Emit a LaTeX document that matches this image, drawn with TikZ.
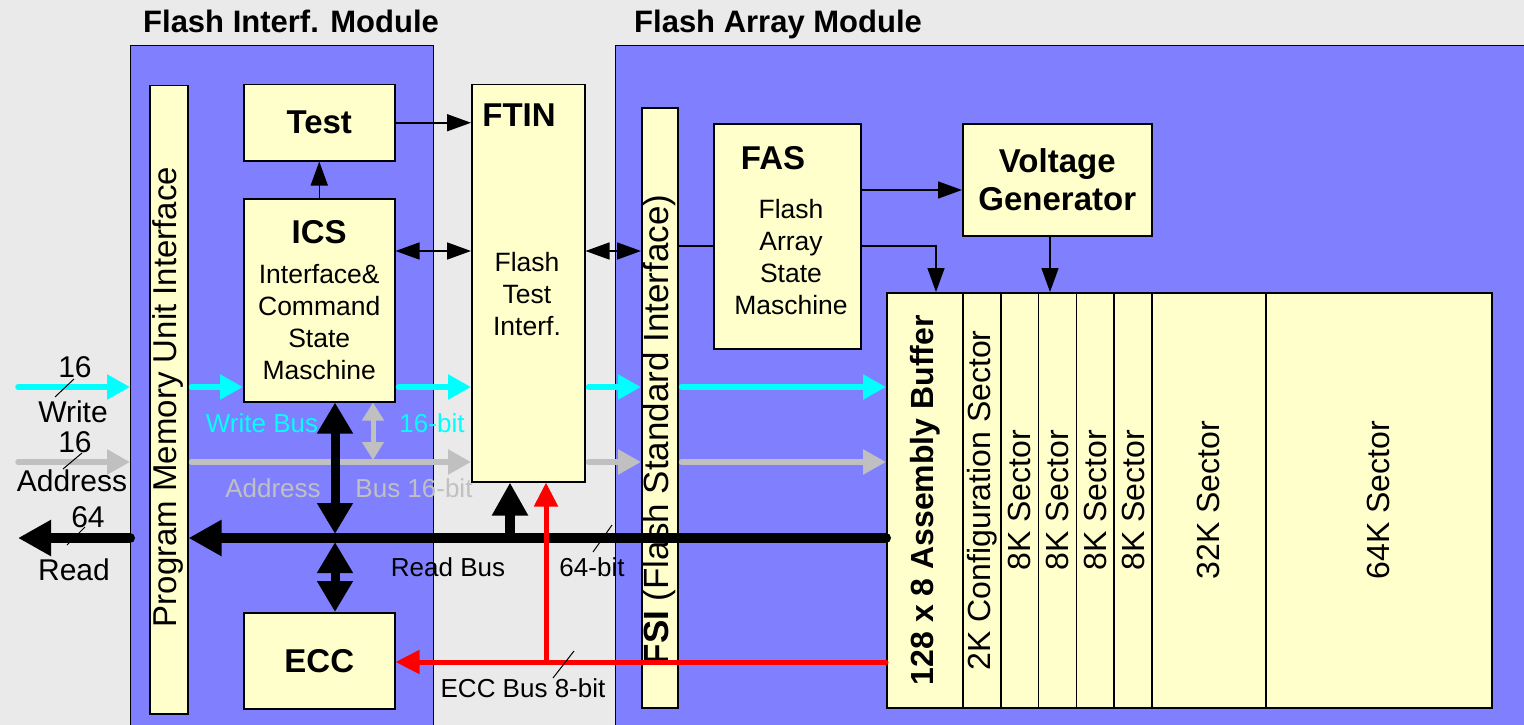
\documentclass[tikz,border=0pt]{standalone}
\usepackage{fontspec}
\setmainfont{Liberation Sans}
\usetikzlibrary{arrows.meta}

\definecolor{modblue}{HTML}{8080FF}
\definecolor{blkyellow}{HTML}{FFFFCC}
\definecolor{bggray}{HTML}{EAEAEA}
\definecolor{buscyan}{HTML}{00FFFF}
\definecolor{busgray}{HTML}{C0C0C0}

\newcommand\ttlfont{\fontsize{31}{36}\selectfont\bfseries}
\newcommand\hdfont{\fontsize{33}{38}\selectfont\bfseries}
\newcommand\bodyfont{\fontsize{26.5}{32}\selectfont}
\newcommand\extfont{\fontsize{30}{34}\selectfont}
\newcommand\busfont{\fontsize{26}{30}\selectfont}
\newcommand\rotfont{\fontsize{32}{36}\selectfont}

\begin{document}
\begin{tikzpicture}[
  x=1pt, y=-1pt,
  module/.style={draw, fill=modblue, line width=1.2pt, inner sep=0pt, anchor=north west},
  blk/.style={draw, fill=blkyellow, line width=1.5pt, inner sep=0pt,
    anchor=north west, align=center, font=\bodyfont},
  ttl/.style={inner sep=0pt, font=\ttlfont},
  hd/.style={inner sep=0pt, font=\hdfont},
  body/.style={inner sep=0pt, align=center, font=\bodyfont},
  rottxt/.style={inner sep=0pt, rotate=90, font=\rotfont},
  ext/.style={inner sep=0pt, font=\extfont},
  buslbl/.style={inner sep=0pt, font=\busfont},
  tick/.style={line width=1pt},
  sig/.style={line width=1.5pt, -{Triangle[length=24pt,width=17pt]}},
  sigboth/.style={line width=1.5pt,
    {Triangle[length=24pt,width=17pt]}-{Triangle[length=24pt,width=17pt]}},
  wbus/.style={draw=buscyan, line width=5.5pt, line cap=round, shorten <=3pt,
    -{Triangle[length=23pt,width=24pt]}},
  abus/.style={draw=busgray, line width=5.5pt, line cap=round, shorten <=3pt,
    -{Triangle[length=23pt,width=24pt]}},
  abusboth/.style={draw=busgray, line width=5pt, shorten >=2pt,
    {Triangle[length=18pt,width=21pt]}-{Triangle[length=18pt,width=21pt]}},
  rbus/.style={line width=10pt, line cap=round, -{Triangle[length=33pt,width=34pt]}},
  rbusboth/.style={line width=9pt,
    {Triangle[length=31pt,width=34pt]}-{Triangle[length=31pt,width=34pt]}},
  ebus/.style={draw=red, line width=5pt, line cap=round, -{Triangle[length=24pt,width=23pt]}}
]
\useasboundingbox (0,0) rectangle (1524,725);
\fill[bggray] (0,0) rectangle (1524,725);
\clip (0,0) rectangle (1524,725);

% modules
\node[module, minimum width=303pt, minimum height=700pt] (fim) at (130,45) {};
\node[module, minimum width=950pt, minimum height=700pt] (fam) at (615,45) {};
\node[ttl, anchor=base west] (fimttl) at (143,33) {Flash Interf. Module};
\node[ttl, anchor=base west] (famttl) at (634,33) {Flash Array Module};

% interface blocks
\node[blk, minimum width=38pt, minimum height=628pt] (pmui) at (149,85) {};
\node[blk, minimum width=151pt, minimum height=76pt, font=\hdfont] (test) at (243,84) {Test};
\node[blk, minimum width=151pt, minimum height=203pt] (ics) at (243,198)
  {{\hdfont ICS}\\[8pt]Interface\&\\Command\\State\\Maschine};
\node[blk, minimum width=151pt, minimum height=96pt, font=\hdfont] (ecc) at (243,612) {ECC};
\node[blk, minimum width=113pt, minimum height=397pt] (ftin) at (471,84) {};
\node[hd] (ftinlbl) at (519,115) {FTIN};
\node[body] (ftintxt) at (527,294) {Flash\\Test\\Interf.};

% array blocks
\node[blk, minimum width=36pt, minimum height=600pt] (fsi) at (641,107) {};
\node[blk, minimum width=147pt, minimum height=225pt] (fas) at (713,123) {};
\node[hd] (faslbl) at (773,158) {FAS};
\node[body] (fastxt) at (791,257) {Flash\\Array\\State\\Maschine};
\node[blk, minimum width=189pt, minimum height=112pt, font=\hdfont] (vgen) at (962,123)
  {Voltage\\Generator};

\node[blk, minimum width=76pt, minimum height=415pt] (asmbuf) at (886,292) {};
\node[blk, minimum width=38pt, minimum height=415pt] (cfg) at (962,292) {};
\foreach \i in {1,...,4}
  \node[blk, minimum width=38pt, minimum height=415pt] (sec\i) at ({1000+37.75*(\i-1)},292) {};
\node[blk, minimum width=114pt, minimum height=415pt] (s32) at (1151,292) {};
\node[blk, minimum width=226pt, minimum height=415pt] (s64) at (1265,292) {};

% rotated texts
\node[rottxt, font=\fontsize{33}{36}\selectfont] (pmuitxt) at (168,397) {Program Memory Unit Interface};
\node[rottxt, font=\fontsize{35}{38}\selectfont] (fsitxt) at (659,430) {\textbf{FSI} (Flash Standard Interface)};
\node[rottxt, font=\rotfont\bfseries] (asmtxt) at (asmbuf.center) {128 x 8 Assembly Buffer};
\node[rottxt] (cfgtxt) at (cfg.center) {2K Configuration Sector};
\foreach \i in {1,...,4}
  \node[rottxt] (sec\i txt) at (sec\i.center) {8K Sector};
\node[rottxt] (s32txt) at (s32.center) {32K Sector};
\node[rottxt] (s64txt) at (s64.center) {64K Sector};

% control signals
\coordinate (ctly) at (0,251);
\coordinate (fasy) at (0,246);
\coordinate (vgy) at (0,190);
\coordinate (vgx) at (1050,0);
\coordinate (asmin) at (936,292);
\draw[sig] (ics) -- (test);
\draw[sig] (test.east) -- (test.east -| ftin.west);
\draw[sigboth] (ics.east |- ctly) -- (ftin.west |- ctly);
\draw[sigboth] (ftin.east |- ctly) -- (fsi.west |- ctly);
\draw[line width=1.5pt] (fsi.east |- fasy) -- (fas.west |- fasy);
\draw[sig] (fas.east |- fasy) -| (asmin);
\draw[sig] (fas.east |- vgy) -- (vgen.west |- vgy);
\draw[sig] (vgen.south -| vgx) -- (sec2.north -| vgx);

% buses
\coordinate (wy) at (0,387);
\coordinate (ay) at (0,462);
\coordinate (ry) at (0,538);
\coordinate (ey) at (0,662);
\coordinate (wrin) at (15,387);
\coordinate (adin) at (15,462);
\coordinate (rdout) at (18,538);
\coordinate (abx) at (373,0);
\coordinate (rvx) at (335,0);
\coordinate (ftx) at (510,0);
\coordinate (ebx) at (546,0);

\draw[wbus] (wrin) -- (fim.west |- wy);
\draw[wbus] (pmui.east |- wy) -- (ics.west |- wy);
\draw[wbus] (ics.east |- wy) -- (ftin.west |- wy);
\draw[wbus] (ftin.east |- wy) -- (fsi.west |- wy);
\draw[wbus] (fsi.east |- wy) -- (asmbuf.west |- wy);

\draw[abus] (adin) -- (fim.west |- ay);
\draw[abus] (pmui.east |- ay) -- (ftin.west |- ay);
\draw[abus] (ftin.east |- ay) -- (fsi.west |- ay);
\draw[abus] (fsi.east |- ay) -- (asmbuf.west |- ay);
\draw[abusboth] (ics.south -| abx) -- (abx |- ay);

\draw[rbus] (asmbuf.west |- ry) -- (pmui.east |- ry);
\draw[rbus] (fim.west |- ry) -- (rdout);
\draw[rbusboth, shorten >=4pt] (ics.south -| rvx) -- (rvx |- ry);
\draw[rbusboth, shorten <=4pt] (rvx |- ry) -- (ecc.north -| rvx);
\draw[rbus, line cap=butt] (ftx |- ry) -- (ftin.south -| ftx);

\draw[ebus] (asmbuf.west |- ey) -- (ecc.east |- ey);
\draw[ebus, line cap=butt] (ebx |- ey) -- (ftin.south -| ebx);

% bus labels
\node[ext] (w16) at (75,367) {16};
\node[ext] (wlbl) at (73,412) {Write};
\node[ext] (a16) at (75,442) {16};
\node[ext] (albl) at (72,481) {Address};
\node[ext] (r64) at (88,517) {64};
\node[ext] (rlbl) at (74,570) {Read};
\draw[tick] (55,397) -- (74,379);
\draw[tick] (63,469) -- (82,453);
\draw[tick] (67,545) -- (85,527);

\node[buslbl, text=buscyan] (wbuslbl) at (262,423) {Write Bus};
\node[buslbl, text=buscyan] (wbitlbl) at (432,423) {16-bit};
\node[buslbl, text=busgray] (abuslbl) at (273,488) {Address};
\node[buslbl, text=busgray] (abitlbl) at (414,488) {Bus 16-bit};
\node[buslbl] (rbuslbl) at (448,567) {Read Bus};
\node[buslbl] (rbitlbl) at (592,567) {64-bit};
\node[buslbl] (ebuslbl) at (523,688) {ECC Bus 8-bit};
\draw[tick] (593,552) -- (612,525);
\draw[tick] (553,678) -- (574,651);
\end{tikzpicture}
\end{document}
